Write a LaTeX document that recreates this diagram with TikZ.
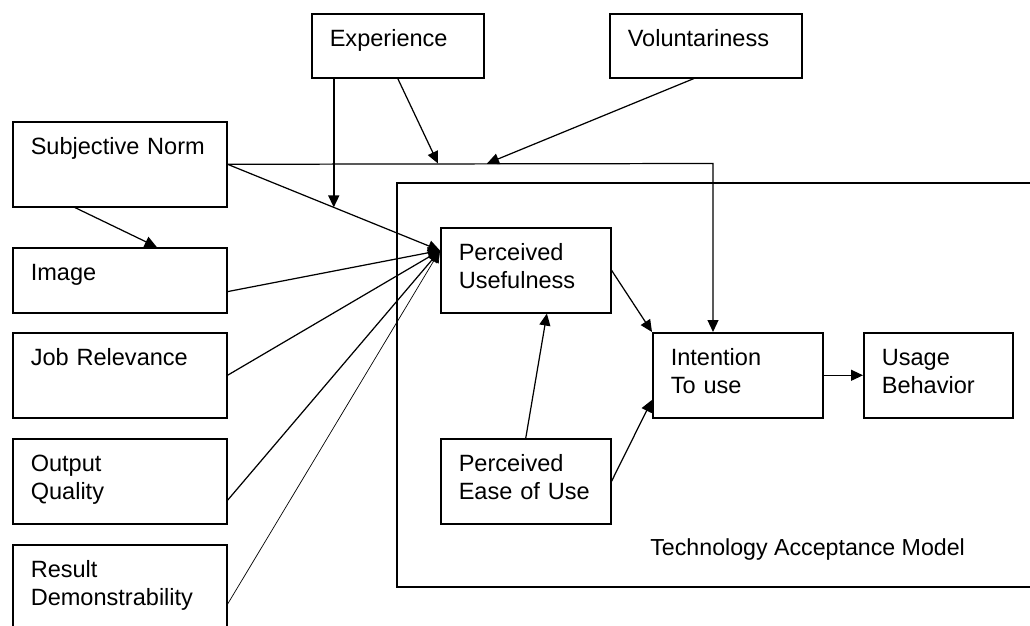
\documentclass[tikz,border=0pt]{standalone}
\usepackage{fontspec}
\setmainfont{Liberation Sans}
\usetikzlibrary{arrows.meta}

\tikzset{
  factor/.style={draw, line width=0.9pt, anchor=north west, align=left,
    inner xsep=0.36cm, inner ysep=0pt, text height=0.66cm,
    font=\fontsize{13.4}{15.9}\selectfont},
  link/.style={line width=0.7pt, -{Triangle[length=2.4mm,width=2.2mm]}}
}

\begin{document}
\begin{tikzpicture}[x=0.02cm, y=-0.02cm]
            \newcommand{\colwide}{3.56cm}
            \newcommand{\tallbox}{1.04cm}
            \useasboundingbox (0,0) rectangle (1030,625);
            % moderators on top
            \node[factor, text width=2.72cm, text depth=0.62cm] (exp) at (311,13) {Experience};
            \node[factor, text width=3.12cm, text depth=0.62cm] (vol) at (609,13) {Voluntariness};
            % left column
            \node[factor, text width=\colwide, text depth=\tallbox] (sn) at (12,121) {Subjective Norm};
            \node[factor, text width=\colwide, text depth=0.64cm] (img) at (12,247) {Image};
            \node[factor, text width=\colwide, text depth=\tallbox] (job) at (12,332) {Job Relevance};
            \node[factor, text width=\colwide, text depth=\tallbox] (out) at (12,438) {Output\\Quality};
            \node[factor, text width=\colwide, text depth=1.34cm] (res) at (12,544) {Result\\Demonstrability};
            % the model frame
            \draw[line width=0.9pt] (1030,183) -- (397,183) -- (397,587) -- (1030,587);
            \node[factor, text width=2.68cm, text depth=\tallbox] (pu) at (440,227) {Perceived\\Usefulness};
            \node[factor, text width=2.68cm, text depth=\tallbox] (peou) at (440,438) {Perceived\\Ease of Use};
            \node[factor, text width=2.68cm, text depth=\tallbox] (itu) at (652,332) {Intention\\To use};
            \node[factor, text width=2.26cm, text depth=\tallbox] (ub) at (863,332) {Usage\\Behavior};
            \node[anchor=base west, inner sep=0pt, font=\fontsize{13.2}{15.9}\selectfont] (tam) at (650,555) {Technology Acceptance Model};
            \coordinate (bend) at (713,163.5);
            \coordinate (expin) at (438,163.5);
            \coordinate (volin) at (487,163.5);
            % into usefulness
            \draw[link] (sn.east) -- coordinate[pos=0.5] (snmid) (pu.167);
            \draw[link] (img.-6) -- (pu.167);
            \draw[link] (job.east) -- (pu.167);
            \draw[link] (out.-10) -- (pu.167);
            \draw[link, line width=0.4pt] (res.-5) -- (pu.167);
            \draw[link] (sn.224) -- (img.42);
            % norm straight to intention, with moderators
            \draw[link] (sn.east) -- (bend) -- (bend |- itu.north);
            \draw[link, line width=0.9pt] (snmid |- exp.south) -- (snmid);
            \draw[link] (exp.south) -- (expin);
            \draw[link] (vol.250) -- (volin);
            % inside the model
            \draw[link] (pu.east) -- (itu.north west);
            \draw[link] (peou.north) -- (pu.-64);
            \draw[link] (peou.east) -- (itu.196);
            \draw[link] (itu.east) -- (ub.west);
\end{tikzpicture}
\end{document}
